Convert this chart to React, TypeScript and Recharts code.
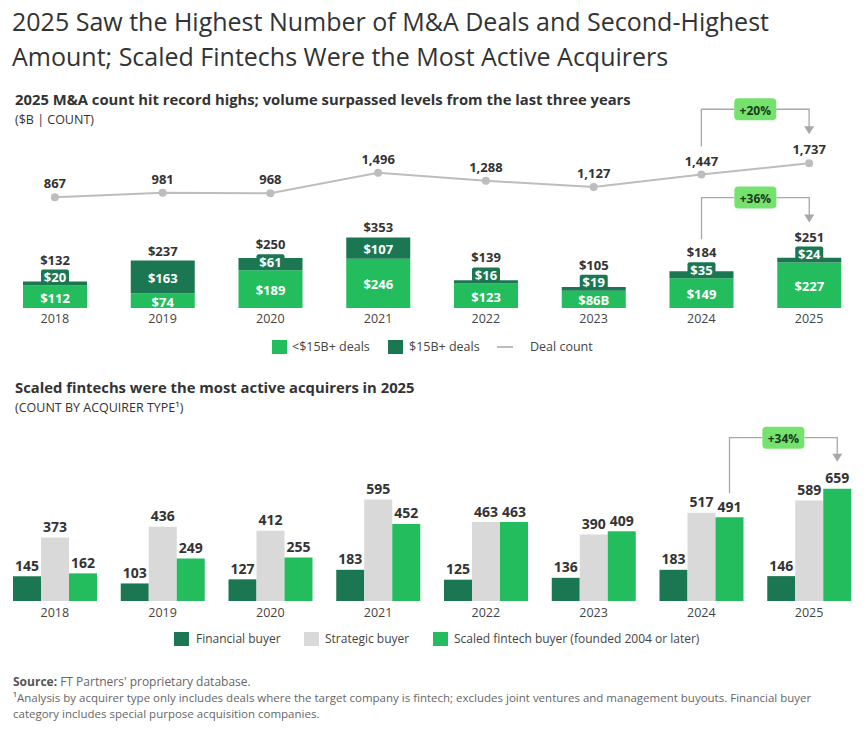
import React from "react";
import { ComposedChart, BarChart, Bar, Line, XAxis, YAxis, LabelList } from "recharts";

// ---- data ----
const years = ["2018", "2019", "2020", "2021", "2022", "2023", "2024", "2025"];
const under15 = [112, 74, 189, 246, 123, 86, 149, 227]; // <$15B+ deals ($B)
const under15Suffix = ["", "", "", "", "", "B", "", ""];
const over15 = [20, 163, 61, 107, 16, 19, 35, 24]; // $15B+ deals ($B)
const dealCount = [867, 981, 968, 1496, 1288, 1127, 1447, 1737];

const financial = [145, 103, 127, 183, 125, 136, 183, 146];
const strategic = [373, 436, 412, 595, 463, 390, 517, 589];
const fintech = [162, 249, 255, 452, 463, 409, 491, 659];

const countGrowth = "+20%";
const volumeGrowth = "+36%";
const fintechGrowth = "+34%";

const volumeData = years.map((year, i) => ({
  year,
  under15: under15[i],
  over15: over15[i],
  count: dealCount[i],
}));

const acquirerData = years.map((year, i) => ({
  year,
  financial: financial[i],
  strategic: strategic[i],
  fintech: fintech[i],
}));

// ---- styling / geometry ----
const FONT = "'Open Sans', 'Noto Sans', sans-serif";
const LIGHT = "#23bd5e";
const DARK = "#1b7752";
const GRAY = "#d9d9d9";
const LINE = "#bdbdbd";
const TEXT = "#333333";
const CONNECT = "#a8a8a8";
const BADGE = "#74e26c";

const W = 866;
const M_LEFT = 1;
const M_RIGHT = 3;
const BAND = (W - M_LEFT - M_RIGHT) / years.length;

const C1_H = 360;
const C1_TOP = 130;
const C1_BOTTOM = 22; // + 30 axis height => plot bottom at 308
const C1_PLOT = C1_H - C1_TOP - C1_BOTTOM - 30;
const BAR_MAX = 890;
const LINE_MIN = -1974;
const LINE_MAX = 2590;

const C2_H = 262;
const C2_TOP = 60;
const C2_BOTTOM = 1;
const C2_PLOT = C2_H - C2_TOP - C2_BOTTOM - 30;
const C2_MAX = 1003;

const pick = (p: any) => {
  const vb = p.viewBox || {};
  return {
    x: p.x ?? vb.x,
    y: p.y ?? vb.y,
    width: p.width ?? vb.width ?? 0,
    height: p.height ?? vb.height ?? 0,
  };
};

const Badge = ({ cx, cy, text }: { cx: number; cy: number; text: string }) => (
  <g>
    <rect x={cx - 21} y={cy - 11} width={42} height={22} rx={4} fill={BADGE} />
    <text
      x={cx}
      y={cy + 1}
      textAnchor="middle"
      dominantBaseline="central"
      fontSize={12}
      fontWeight={700}
      fill="#1c3a1d"
      fontFamily={FONT}
    >
      {text}
    </text>
  </g>
);

// connector: up from (x1, y1) to hy, across to x2, down to arrow tip at (x2, tip)
const Connector = ({ x1, y1, x2, tip, hy, text }: any) => {
  const cx = (x1 + x2) / 2;
  return (
    <g>
      <polyline
        points={`${x1},${y1} ${x1},${hy} ${cx - 21},${hy}`}
        fill="none"
        stroke={CONNECT}
        strokeWidth={1.3}
      />
      <polyline
        points={`${cx + 21},${hy} ${x2},${hy} ${x2},${tip - 7}`}
        fill="none"
        stroke={CONNECT}
        strokeWidth={1.3}
      />
      <polygon points={`${x2 - 5},${tip - 8} ${x2 + 5},${tip - 8} ${x2},${tip}`} fill={CONNECT} />
      <Badge cx={cx} cy={hy} text={text} />
    </g>
  );
};

const boldText = {
  fontFamily: FONT,
  fontWeight: 700,
  fontSize: 13,
} as const;

// where the total label of a volume bar sits, given the dark segment's top and height
const totalLabelY = (top: number, h: number) => {
  const small = h < 14;
  const boxTop = small ? top + h - 16 : top;
  return Math.min(top, boxTop) - 10;
};

const renderUnderLabel = (props: any) => {
  const { x, y, width, height } = pick(props);
  const i = props.index;
  return (
    <text
      x={x + width / 2}
      y={y + height / 2 + 1}
      textAnchor="middle"
      dominantBaseline="central"
      fill="#fff"
      {...boldText}
    >
      {`$${under15[i]}${under15Suffix[i]}`}
    </text>
  );
};

const renderOverLabel = (props: any) => {
  const { x, y, width, height } = pick(props);
  const i = props.index;
  const cx = x + width / 2;
  const label = `$${over15[i]}`;
  const small = height < 14;
  const total = under15[i] + over15[i];
  const ppu = C1_PLOT / BAR_MAX;
  let annotation = null;
  if (i === years.length - 1) {
    const prevTotal = under15[i - 1] + over15[i - 1];
    const prevTop = y + (total - prevTotal) * ppu;
    const prevH = over15[i - 1] * ppu;
    const prevLabel = totalLabelY(prevTop, prevH);
    const curLabel = totalLabelY(y, height);
    annotation = (
      <Connector
        x1={cx - BAND}
        y1={prevLabel - 13}
        x2={cx}
        tip={curLabel - 14}
        hy={curLabel - 39}
        text={volumeGrowth}
      />
    );
  }
  const bw = label.length * 8 + 4;
  const boxCy = y + height - 9;
  return (
    <g>
      {small ? (
        <g>
          <rect x={cx - bw / 2} y={boxCy - 7} width={bw} height={14} rx={2} fill={DARK} />
          <text x={cx} y={boxCy + 0.5} textAnchor="middle" dominantBaseline="central" fill="#fff" {...boldText}>
            {label}
          </text>
        </g>
      ) : (
        <text
          x={cx}
          y={y + height / 2 + 1}
          textAnchor="middle"
          dominantBaseline="central"
          fill="#fff"
          {...boldText}
        >
          {label}
        </text>
      )}
      <text
        x={cx}
        y={totalLabelY(y, height)}
        textAnchor="middle"
        dominantBaseline="central"
        fill={TEXT}
        {...boldText}
      >
        {`$${total}`}
      </text>
      {annotation}
    </g>
  );
};

const renderCountLabel = (props: any) => {
  const { x, y } = pick(props);
  const i = props.index;
  let annotation = null;
  if (i === years.length - 1) {
    const ppu = C1_PLOT / (LINE_MAX - LINE_MIN);
    const prevY = y + (dealCount[i] - dealCount[i - 1]) * ppu;
    annotation = (
      <Connector
        x1={x - BAND}
        y1={prevY - 28}
        x2={x}
        tip={y - 29}
        hy={Math.min(y, prevY) - 54}
        text={countGrowth}
      />
    );
  }
  return (
    <g>
      <text x={x} y={y - 14} textAnchor="middle" dominantBaseline="central" fill={TEXT} {...boldText}>
        {dealCount[i].toLocaleString("en-US")}
      </text>
      {annotation}
    </g>
  );
};

const makeCountLabel = (values: number[], withGrowth: boolean) => (props: any) => {
  const { x, y, width } = pick(props);
  const i = props.index;
  const cx = x + width / 2;
  let annotation = null;
  if (withGrowth && i === years.length - 1) {
    const ppu = C2_PLOT / C2_MAX;
    const prevTop = y + (values[i] - values[i - 1]) * ppu;
    annotation = (
      <Connector x1={cx - BAND} y1={prevTop - 24} x2={cx} tip={y - 27} hy={y - 51} text={fintechGrowth} />
    );
  }
  return (
    <g>
      <text
        x={cx}
        y={y - 11}
        textAnchor="middle"
        dominantBaseline="central"
        fill={TEXT}
        fontFamily={FONT}
        fontWeight={700}
        fontSize={14}
      >
        {values[i]}
      </text>
      {annotation}
    </g>
  );
};

const abs = (style: React.CSSProperties): React.CSSProperties => ({
  position: "absolute",
  fontFamily: FONT,
  color: TEXT,
  whiteSpace: "nowrap",
  ...style,
});

const LegendSwatch = ({ left, top, color }: { left: number; top: number; color: string }) => (
  <div style={{ position: "absolute", left, top: top - 7, width: 15, height: 14, background: color }} />
);

const LegendText = ({ left, top, text, size = 12.5 }: { left: number; top: number; text: string; size?: number }) => (
  <div style={abs({ left, top: top - 9, fontSize: size, lineHeight: "18px", color: "#444" })}>{text}</div>
);

const tickStyle = { fontSize: 12.5, fill: "#444", fontFamily: FONT };

export default function App() {
  return (
    <div style={{ position: "absolute", left: 0, top: 0, width: W, height: 729, background: "#fff", overflow: "hidden" }}>
      <div style={abs({ left: 12, top: 4, fontSize: 25, lineHeight: "35px", fontWeight: 400, color: "#333" })}>
        2025 Saw the Highest Number of M&amp;A Deals and Second-Highest
        <br />
        Amount; Scaled Fintechs Were the Most Active Acquirers
      </div>

      <div style={abs({ left: 15, top: 89, fontSize: 14.8, lineHeight: "21px", fontWeight: 700 })}>
        2025 M&amp;A count hit record highs; volume surpassed levels from the last three years
      </div>
      <div style={abs({ left: 15, top: 111, fontSize: 12.5, lineHeight: "17px" })}>($B | COUNT)</div>

      <div style={{ position: "absolute", left: 0, top: 0 }}>
        <ComposedChart
          width={W}
          height={C1_H}
          data={volumeData}
          margin={{ top: C1_TOP, right: M_RIGHT, bottom: C1_BOTTOM, left: M_LEFT }}
        >
          <XAxis dataKey="year" axisLine={false} tickLine={false} tickSize={4} tick={tickStyle} />
          <YAxis yAxisId="bar" hide domain={[0, BAR_MAX]} />
          <YAxis yAxisId="line" hide domain={[LINE_MIN, LINE_MAX]} />
          <Bar yAxisId="bar" dataKey="under15" stackId="v" fill={LIGHT} barSize={64} isAnimationActive={false}>
            <LabelList dataKey="under15" content={renderUnderLabel} />
          </Bar>
          <Bar yAxisId="bar" dataKey="over15" stackId="v" fill={DARK} barSize={64} isAnimationActive={false}>
            <LabelList dataKey="over15" content={renderOverLabel} />
          </Bar>
          <Line
            yAxisId="line"
            dataKey="count"
            stroke={LINE}
            strokeWidth={2}
            dot={{ r: 4, fill: LINE, stroke: LINE, strokeWidth: 0 }}
            isAnimationActive={false}
          >
            <LabelList dataKey="count" content={renderCountLabel} />
          </Line>
        </ComposedChart>
      </div>

      <LegendSwatch left={272} top={347} color={LIGHT} />
      <LegendText left={292} top={347} text="<$15B+ deals" />
      <LegendSwatch left={388} top={347} color={DARK} />
      <LegendText left={409} top={347} text="$15B+ deals" />
      <div style={{ position: "absolute", left: 497, top: 346, width: 16, height: 1.5, background: LINE }} />
      <LegendText left={530} top={347} text="Deal count" />

      <div style={abs({ left: 15, top: 377, fontSize: 14.8, lineHeight: "21px", fontWeight: 700 })}>
        Scaled fintechs were the most active acquirers in 2025
      </div>
      <div style={abs({ left: 15, top: 399, fontSize: 12.5, lineHeight: "17px" })}>(COUNT BY ACQUIRER TYPE¹)</div>

      <div style={{ position: "absolute", left: 0, top: 370 }}>
        <BarChart
          width={W}
          height={C2_H}
          data={acquirerData}
          barGap={0}
          margin={{ top: C2_TOP, right: M_RIGHT, bottom: C2_BOTTOM, left: M_LEFT }}
        >
          <XAxis dataKey="year" axisLine={false} tickLine={false} tickSize={5} tick={tickStyle} />
          <YAxis hide domain={[0, C2_MAX]} />
          <Bar dataKey="financial" fill={DARK} barSize={28} isAnimationActive={false}>
            <LabelList dataKey="financial" content={makeCountLabel(financial, false)} />
          </Bar>
          <Bar dataKey="strategic" fill={GRAY} barSize={28} isAnimationActive={false}>
            <LabelList dataKey="strategic" content={makeCountLabel(strategic, false)} />
          </Bar>
          <Bar dataKey="fintech" fill={LIGHT} barSize={28} isAnimationActive={false}>
            <LabelList dataKey="fintech" content={makeCountLabel(fintech, true)} />
          </Bar>
        </BarChart>
      </div>

      <LegendSwatch left={174} top={639} color={DARK} />
      <LegendText left={196} top={639} text="Financial buyer" size={12} />
      <LegendSwatch left={304} top={639} color={GRAY} />
      <LegendText left={325} top={639} text="Strategic buyer" size={12} />
      <LegendSwatch left={433} top={639} color={LIGHT} />
      <LegendText left={454} top={639} text="Scaled fintech buyer (founded 2004 or later)" size={12} />

      <div style={abs({ left: 13, top: 674, fontSize: 12, lineHeight: "16px", color: "#666" })}>
        <span style={{ fontWeight: 700, color: "#555" }}>Source:</span> FT Partners' proprietary database.
      </div>
      <div style={abs({ left: 13, top: 690, fontSize: 11.5, lineHeight: "15.5px", color: "#666" })}>
        ¹Analysis by acquirer type only includes deals where the target company is fintech; excludes joint ventures and
        management buyouts. Financial buyer
        <br />
        category includes special purpose acquisition companies.
      </div>
    </div>
  );
}
